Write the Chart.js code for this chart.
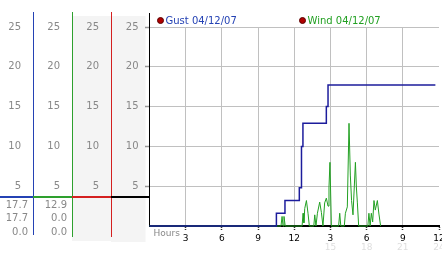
<!DOCTYPE html>
<html>
<head>
<meta charset="utf-8">
<script src="https://cdn.jsdelivr.net/npm/chart.js@4.4.1/dist/chart.umd.min.js"></script>
<style>
  html, body { margin: 0; padding: 0; background: #fff; }
</style>
</head>
<body>
<canvas id="weather" width="442" height="253"></canvas>
<script>
// gust: hour of day when the reading changed, and the new value
const gustHours  = [0, 10.52, 11.23, 12.42, 12.6, 12.72, 14.66, 14.8, 23.7];
const gustValues = [0, 1.6,   3.2,   4.8,   10.0, 12.9,  15.0,  17.7, 17.7];

// wind: sampled readings
const windHours  = [0, 10.9, 10.99, 11.07, 11.15, 11.25, 12.65, 12.73, 12.8, 12.87, 13.01, 13.14, 13.25,
                    13.62, 13.7, 13.8, 13.92, 14.11, 14.25, 14.38, 14.52, 14.66, 14.8, 14.88, 14.96, 15.08,
                    15.68, 15.77, 15.86, 16.15, 16.24, 16.4, 16.54, 16.65, 16.75, 16.87, 17.07, 17.15, 17.23,
                    17.34, 18.1, 18.19, 18.29, 18.39, 18.5, 18.61, 18.72, 18.89, 19.02, 19.16, 23.8];
const windValues = [0, 0, 1.2, 0, 1.2, 0, 0, 1.6, 0.4, 2.2, 3.2, 1.6, 0,
                    0, 1.4, 0, 1.6, 3.0, 1.7, 0, 2.9, 3.5, 2.5, 4.9, 8.0, 0,
                    0, 1.6, 0, 0, 1.6, 2.4, 12.9, 6.4, 3.2, 1.4, 8.0, 4.9, 3.0,
                    0, 0, 1.6, 0, 1.6, 0.5, 3.2, 2.0, 3.2, 1.5, 0];

const seriesLabels = ['Gust 04/12/07', 'Wind 04/12/07'];
const gustSummary = ['17.7', '17.7', '0.0'];
const windSummary = ['12.9', '0.0', '0.0'];
const hourTicks = [3, 6, 9, 12, 15, 18, 21, 24];

const yMax = 25;
const font = 'DejaVu Sans';
const clear = 'rgba(0,0,0,0)';
const blue = '#2442b4', green = '#2ea02e', red = '#d42020';

function pts(xs, ys) {
    return xs.map(function (h, i) { return { x: h, y: ys[i] }; });
}

function fitY(width) {
    return function (s) { s.width = width; s.paddingTop = 0; s.paddingBottom = 0; };
}

// one of the coloured value columns on the left
function sideAxis(color, width, weight) {
    return {
        position: 'left',
        weight: weight,
        min: 0,
        max: yMax,
        grid: { display: false, drawTicks: false },
        border: { display: true, color: color, width: 1 },
        ticks: {
            stepSize: 5,
            padding: 12,
            color: '#888',
            font: { family: font, size: 10 },
            callback: function (v) { return v === 0 ? '' : v; }
        },
        afterFit: fitY(width)
    };
}

function alignX(x) { return Math.round(x - 0.5) + 0.5; }

const decor = {
    id: 'decor',
    beforeDraw: function (chart) {
        const c = chart.ctx, s = chart.scales;
        c.save();
        c.fillStyle = '#f4f4f4';
        c.fillRect(s.yRed.left, 16, s.yRed.right - s.yRed.left, 225);
        c.fillRect(s.y.left, 16, s.y.right - 4 - s.y.left, 226);
        c.restore();
    },
    afterDraw: function (chart) {
        const c = chart.ctx, s = chart.scales, area = chart.chartArea;
        c.save();
        c.lineWidth = 1;
        // main axis reaches up past the 25 line
        c.strokeStyle = '#000';
        c.beginPath();
        c.moveTo(alignX(s.y.right), 13);
        c.lineTo(alignX(s.y.right), area.top);
        c.stroke();
        // coloured column lines run past the plot
        [[s.yBlue, blue, 235], [s.yGreen, green, 237], [s.yRed, red, 237]].forEach(function (a) {
            const x = alignX(a[0].right);
            c.strokeStyle = a[1];
            c.beginPath();
            c.moveTo(x, 12);
            c.lineTo(x, a[2]);
            c.stroke();
        });
        // separator above the summary values
        c.lineWidth = 2;
        [[0, s.yBlue.right, blue], [s.yBlue.right, s.yGreen.right, green],
         [s.yGreen.right, s.yRed.right, red], [s.yRed.right, area.left, '#000']].forEach(function (a) {
            c.strokeStyle = a[2];
            c.beginPath();
            c.moveTo(a[0], 197);
            c.lineTo(a[1], 197);
            c.stroke();
        });
        // summary values
        c.font = '10px "' + font + '"';
        c.fillStyle = '#888';
        c.textAlign = 'right';
        c.textBaseline = 'middle';
        gustSummary.forEach(function (t, i) { c.fillText(t, s.yBlue.right - 5, 205 + i * 13.7); });
        windSummary.forEach(function (t, i) { c.fillText(t, s.yGreen.right - 5, 205 + i * 13.7); });
        // axis name
        c.font = '9px "' + font + '"';
        c.textAlign = 'left';
        c.fillText('Hours', area.left + 4, 233.5);
        // legend above the plot
        c.font = '10px "' + font + '"';
        chart.data.datasets.forEach(function (ds, i) {
            const x = area.left + (i === 0 ? 11 : 153);
            c.beginPath();
            c.arc(x, 20.5, 3, 0, Math.PI * 2);
            c.fillStyle = '#b00000';
            c.fill();
            c.strokeStyle = '#5a0000';
            c.lineWidth = 1;
            c.stroke();
            c.fillStyle = ds.legendColor;
            c.fillText(ds.label, x + 5, 21);
        });
        c.restore();
    }
};

new Chart(document.getElementById('weather'), {
    type: 'line',
    data: {
        datasets: [{
            label: seriesLabels[0],
            data: pts(gustHours, gustValues),
            borderColor: '#1c1c9c',
            legendColor: blue,
            borderWidth: 1.5,
            stepped: 'before',
            pointRadius: 0,
            clip: 4
        }, {
            label: seriesLabels[1],
            data: pts(windHours, windValues),
            borderColor: '#22a022',
            legendColor: '#22a022',
            borderWidth: 1,
            tension: 0,
            pointRadius: 0,
            clip: 4
        }]
    },
    options: {
        responsive: false,
        animation: false,
        layout: { padding: { top: 27, right: 3, left: 0, bottom: 0 } },
        plugins: {
            legend: { display: false },
            tooltip: { enabled: false }
        },
        scales: {
            x: {
                type: 'linear',
                position: 'bottom',
                weight: 0,
                min: 0,
                max: 24,
                grid: {
                    color: function (ctx) { return ctx.tick && (ctx.tick.value === 0 || ctx.tick.value === 24) ? clear : '#c0c0c0'; },
                    tickColor: function (ctx) { return ctx.tick && ctx.tick.value === 0 ? clear : '#333'; },
                    tickLength: 5,
                    tickWidth: 1.5,
                    tickBorderDash: [1, 1]
                },
                border: { color: '#000', width: 2 },
                afterBuildTicks: function (s) { s.ticks = [0].concat(hourTicks).map(function (v) { return { value: v }; }); },
                ticks: {
                    padding: 2,
                    color: '#000',
                    maxRotation: 0,
                    autoSkip: false,
                    font: { family: font, size: 9 },
                    callback: function (v) { return v === 0 ? '' : String(v % 12 === 0 ? 12 : v % 12); }
                },
                afterFit: function (s) { s.height = 15; s.paddingLeft = 0; s.paddingRight = 0; }
            },
            x2: {
                type: 'linear',
                position: 'bottom',
                weight: 1,
                min: 0,
                max: 24,
                grid: { display: false, drawTicks: false },
                border: { display: false },
                afterBuildTicks: function (s) { s.ticks = hourTicks.map(function (v) { return { value: v }; }); },
                ticks: {
                    padding: 1,
                    color: '#dedede',
                    maxRotation: 0,
                    autoSkip: false,
                    font: { family: font, size: 9 },
                    callback: function (v) { return v > 12 ? String(v) : ''; }
                },
                afterFit: function (s) { s.height = 12; s.paddingLeft = 0; s.paddingRight = 0; }
            },
            y: {
                position: 'left',
                weight: 0,
                min: 0,
                max: yMax,
                grid: {
                    color: function (ctx) { return ctx.tick && ctx.tick.value === 0 ? clear : '#c0c0c0'; },
                    tickColor: function (ctx) { return ctx.tick && ctx.tick.value === 0 ? clear : '#333'; },
                    tickLength: 4,
                    tickWidth: 1.5,
                    tickBorderDash: [1, 1]
                },
                border: { color: '#000', width: 1 },
                ticks: {
                    stepSize: 5,
                    padding: 7,
                    color: '#888',
                    font: { family: font, size: 10 },
                    callback: function (v) { return v === 0 ? '' : v; }
                },
                afterFit: fitY(38.5)
            },
            yRed: sideAxis(red, 39, 1),
            yGreen: sideAxis(green, 39, 2),
            yBlue: sideAxis(blue, 33, 3)
        }
    },
    plugins: [decor]
});
</script>
</body>
</html>
